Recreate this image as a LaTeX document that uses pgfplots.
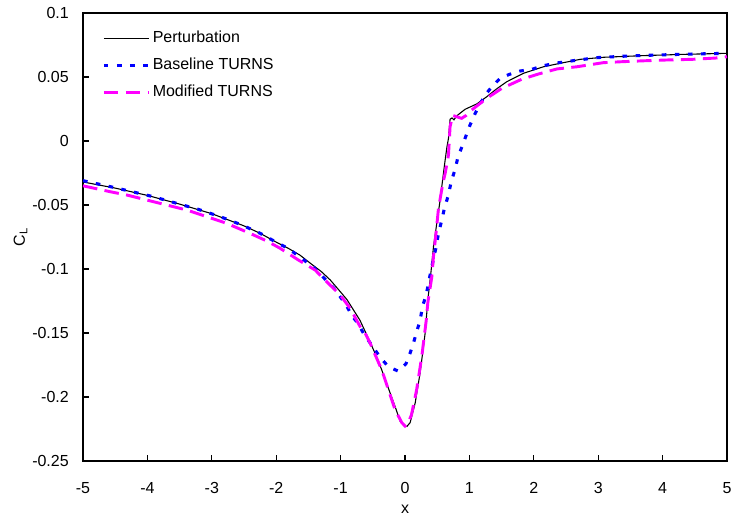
\documentclass[border=0pt]{standalone}
\usepackage{fontspec}
\setmainfont{Liberation Sans}
\usepackage{pgfplots}
\pgfplotsset{compat=1.18}
\definecolor{cblue}{RGB}{0,0,255}
\definecolor{cmag}{RGB}{255,0,255}
\begin{document}
\fontsize{10.4}{12.5}\selectfont
\begin{tikzpicture}
\begin{axis}[
  scale only axis, width=418.6pt, height=291.2pt,
  xmin=-5, xmax=5, ymin=-0.25, ymax=0.1,
  xtick={-5,-4,-3,-2,-1,0,1,2,3,4,5},
  xticklabels={-5,-4,-3,-2,-1,0,1,2,3,4,5},
  ytick={-0.25,-0.2,-0.15,-0.1,-0.05,0,0.05,0.1},
  yticklabels={-0.25,-0.2,-0.15,-0.1,-0.05,0,0.05,0.1},
  tick align=inside, xtick pos=bottom, ytick pos=left,
  axis line style={line width=1.1pt},
  major tick style={line width=0.8pt, black},
  major tick length=4pt,
  xticklabel style={yshift=-10.5pt},
  yticklabel style={xshift=-5.6pt},
  xlabel={x}, ylabel={C\textsubscript{L}},
  every axis x label/.style={at={(axis description cs:0.5,0)}, yshift=-31.2pt, anchor=center},
  every axis y label/.style={at={(axis description cs:0,0.5)}, xshift=-40.6pt, rotate=90, anchor=center},
  legend style={draw=none, fill=none, inner sep=0pt, row sep=8pt,
    at={(axis description cs:0,1)}, anchor=north west, xshift=12.35pt, yshift=-11.3pt,
    nodes={inner sep=0pt, anchor=west, text height=7.5pt, text depth=2.2pt}},
  legend cell align=left,
  legend image code/.code={\draw[#1] (0pt,0pt) -- (29.3pt,0pt); \path (30.8pt,0pt);},
]
\coordinate (sw) at (axis description cs:0,0);
\coordinate (ne) at (axis description cs:1,1);
\addplot[black, line width=0.7pt] coordinates {
(-5,-0.032) (-4.5,-0.0368) (-4,-0.0425) (-3.5,-0.0493) (-3,-0.0568) (-2.5,-0.0663)
(-2.25,-0.0721) (-2,-0.0790) (-1.8,-0.0842) (-1.63,-0.0892) (-1.47,-0.0955) (-1.3,-0.1020)
(-1.16,-0.1086) (-1.0,-0.1180) (-0.9,-0.1240) (-0.8,-0.1320) (-0.7,-0.1400) (-0.57,-0.1540)
(-0.45,-0.1675) (-0.36,-0.1790) (-0.23,-0.1970) (-0.15,-0.2080) (-0.075,-0.2190) (0.0,-0.2225)
(0.03,-0.2230) (0.08,-0.2200) (0.158,-0.2047) (0.235,-0.1810) (0.313,-0.1500) (0.355,-0.1240)
(0.40,-0.1040) (0.442,-0.0826) (0.50,-0.0620) (0.546,-0.0460) (0.61,-0.0200) (0.65,-0.0050)
(0.675,0.0020) (0.70,0.0170) (0.73,0.0180) (0.76,0.0165) (0.80,0.0195) (0.85,0.0215)
(0.934,0.0248) (1.116,0.0290) (1.27,0.0346) (1.43,0.0410) (1.58,0.0463) (1.84,0.0529)
(2.15,0.0580) (2.41,0.0607) (2.72,0.0638) (3.08,0.0654) (3.70,0.0667) (4.33,0.0677) (5,0.0685)
};
\addlegendentry{Perturbation}
\addplot[cblue, line width=2pt, dash pattern=on 3pt off 5.5pt] coordinates {
(-5,-0.031) (-4.5,-0.0365) (-3.91,-0.0435) (-3.545,-0.0487) (-3.21,-0.0534) (-2.87,-0.0591)
(-2.535,-0.0656) (-2.25,-0.0721) (-1.967,-0.0800) (-1.81,-0.0840) (-1.42,-0.0987) (-1.085,-0.1160)
(-0.904,-0.1290) (-0.83,-0.1360) (-0.724,-0.1430) (-0.647,-0.1500) (-0.466,-0.1633) (-0.36,-0.1705)
(-0.258,-0.1763) (-0.11,-0.1797) (0.013,-0.1742) (0.08,-0.1656) (0.131,-0.1580) (0.184,-0.1484)
(0.235,-0.1404) (0.27,-0.1295) (0.33,-0.1200) (0.365,-0.1110) (0.40,-0.1020) (0.484,-0.0826)
(0.52,-0.0720) (0.572,-0.0617) (0.608,-0.0534) (0.675,-0.0420) (0.717,-0.0318) (0.779,-0.0220)
(0.82,-0.0130) (0.88,-0.0050) (1.01,0.0125) (1.09,0.0216) (1.167,0.0289) (1.245,0.0360)
(1.35,0.0424) (1.478,0.0490) (1.618,0.0520) (1.79,0.0547) (1.97,0.0560) (2.135,0.0586)
(2.32,0.0607) (2.51,0.0620) (2.69,0.0633) (3.0,0.0652) (3.5,0.0665) (4.0,0.0673) (4.5,0.0680) (5,0.0685)
};
\addlegendentry{Baseline TURNS}
\addplot[cmag, line width=1.9pt, dash pattern=on 9.5pt off 4.8pt] coordinates {
(-5,-0.0350) (-4.58,-0.0396) (-4.32,-0.0422) (-4.01,-0.0461) (-3.70,-0.0500) (-3.39,-0.0539)
(-3.08,-0.0591) (-2.77,-0.0643) (-2.41,-0.0721) (-2.15,-0.0780) (-1.94,-0.0838) (-1.655,-0.0930)
(-1.396,-0.1008) (-1.214,-0.1100) (-1.007,-0.1203) (-0.852,-0.1307) (-0.697,-0.1450) (-0.62,-0.1500)
(-0.541,-0.1580) (-0.36,-0.1790) (-0.153,-0.2100) (-0.05,-0.2200) (0.0,-0.2227) (0.05,-0.2200)
(0.10,-0.2140) (0.18,-0.1945) (0.26,-0.1685) (0.33,-0.1400) (0.355,-0.1260) (0.417,-0.1060)
(0.442,-0.0904) (0.484,-0.0709) (0.52,-0.0526) (0.588,-0.0330) (0.624,-0.0252) (0.675,-0.0110)
(0.70,0.0112) (0.74,0.0200) (0.80,0.0190) (0.88,0.0177) (0.95,0.0200) (1.035,0.0242)
(1.27,0.0334) (1.50,0.0410) (1.81,0.0482) (2.07,0.0523) (2.36,0.0563) (2.67,0.0580)
(3.08,0.0612) (3.39,0.0620) (3.73,0.0627) (4.07,0.0633) (4.46,0.0638) (4.82,0.0648) (5,0.0658)
};
\addlegendentry{Modified TURNS}
\end{axis}
\pgfresetboundingbox
\path ([shift={(-53.95pt,-37.05pt)}]sw) rectangle ([shift={(3.25pt,8.45pt)}]ne);
\end{tikzpicture}
\end{document}
